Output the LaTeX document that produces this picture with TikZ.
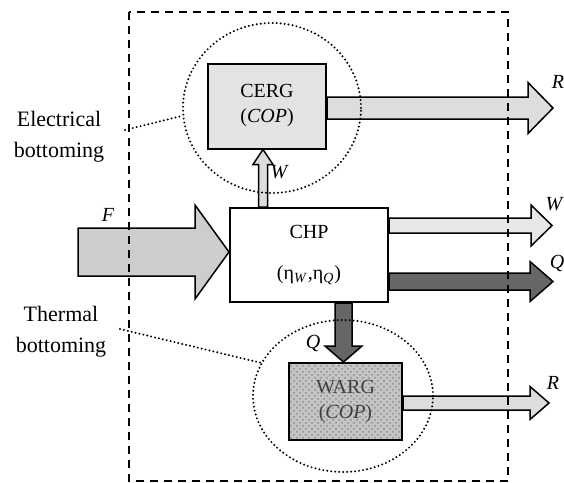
\documentclass[tikz,border=0pt]{standalone}
\usepackage{fontspec}
\setmainfont{Liberation Serif}
\usetikzlibrary{calc,shapes.geometric,patterns,backgrounds}
\definecolor{cergfill}{HTML}{E3E3E3}
\definecolor{flowlight}{HTML}{DDDDDD}
\definecolor{flowfuel}{HTML}{CDCDCD}
\definecolor{flowdark}{HTML}{666666}
\definecolor{wargfill}{HTML}{C4C4C4}
\tikzset{
  box/.style={draw, line width=1pt, inner sep=2pt, align=center, font=\fontsize{10}{12.5}\selectfont},
  flow/.style={draw, line width=.75pt, line join=miter},
  ring/.style={draw, ellipse, inner sep=0pt, line width=1.1pt, line cap=round, dash pattern=on 0pt off 2pt},
  pointer/.style={line width=1.1pt, line cap=round, dash pattern=on 0pt off 2pt},
  lbl/.style={font=\fontsize{10}{12}\selectfont\itshape},
  side/.style={align=center, font=\fontsize{11}{15.5}\selectfont}
}
% horizontal block arrow: from, tip, half shaft, half head, head length, style
\newcommand{\flowh}[6]{%
  \filldraw[flow,#6] ($(#1)+(0,#3)$) -- ($(#2)+(-#5,#3)$) -- ($(#2)+(-#5,#4)$) -- (#2)
    -- ($(#2)+(-#5,-#4)$) -- ($(#2)+(-#5,-#3)$) -- ($(#1)+(0,-#3)$) -- cycle;}
% vertical block arrow: from, tip, half shaft, half head, signed head length, style
\newcommand{\flowv}[6]{%
  \filldraw[flow,#6] ($(#1)+(#3,0)$) -- ($(#2)+(#3,#5)$) -- ($(#2)+(#4,#5)$) -- (#2)
    -- ($(#2)+(-#4,#5)$) -- ($(#2)+(-#3,#5)$) -- ($(#1)+(-#3,0)$) -- cycle;}
\begin{document}
\begin{tikzpicture}[x=.5pt,y=-.5pt]
\useasboundingbox (0,0) rectangle (564,483);

% blocks
\node[box, fill=cergfill, minimum width=59pt, minimum height=42.5pt] (cerg) at (267,106) {CERG\\(\textit{COP})};
\node[box, fill=white, minimum width=79pt, minimum height=47pt] (chp) at (309,255)
  {CHP\\[8pt](η\textsubscript{\textit{W}},η\textsubscript{\textit{Q}})};
\node[box, text=black!75, preaction={fill=wargfill}, pattern=crosshatch dots, pattern color=black!45,
  minimum width=56.5pt, minimum height=38.5pt] (warg) at (345.5,401.5) {WARG\\(\textit{COP})};

% bottoming rings
\node[ring, minimum width=89pt, minimum height=85pt] (ering) at (272,108) {};
\node[ring, minimum width=90pt, minimum height=76pt] (tring) at (343,396) {};

% flow ends
\coordinate (rA) at (553,108);
\coordinate (wout) at (552,225.5);
\coordinate (qout) at (553,281.5);
\coordinate (rB) at (549,403);
\coordinate (fin) at (78,252);
\coordinate (wx) at (263,0);
\coordinate (qx) at (343.5,0);

\begin{scope}[on background layer]
\flowh{fin}{chp.west |- fin}{24}{47}{34}{fill=flowfuel}
\flowh{cerg.east |- rA}{rA}{11}{25.5}{25}{fill=flowlight}
\flowh{chp.east |- wout}{wout}{7.5}{20.5}{21}{fill=flowlight!70}
\flowh{chp.east |- qout}{qout}{8.5}{20}{23}{fill=flowdark}
\flowh{warg.east |- rB}{rB}{7}{16.5}{19}{fill=flowlight}
\flowv{chp.north -| wx}{cerg.south -| wx}{4.5}{10}{15}{fill=flowlight}
\flowv{chp.south -| qx}{warg.north -| qx}{8.5}{18.5}{-16}{fill=flowdark}
\end{scope}

% flow labels
\node[lbl] (lr1) at (558,82) {R};
\node[lbl] (lw1) at (554,204) {W};
\node[lbl] (lq1) at (557,263) {Q};
\node[lbl] (lr2) at (553,383) {R};
\node[lbl] (lf) at (108,215) {F};
\node[lbl] (lw2) at (279,172) {W};
\node[lbl] (lq2) at (313,343) {Q};

% side notes
\node[side] (elec) at (59,137) {Electrical\\bottoming};
\node[side] (therm) at (61,332) {Thermal\\bottoming};
\coordinate (ep) at (125,130);
\coordinate (tp) at (120,329);
\draw[pointer] (ep) -- (ering.185);
\draw[pointer] (tp) -- (tring.158);

% system boundary
\draw[line width=.75pt, dash pattern=on 4pt off 3pt] (129,12) rectangle (508,481);
\end{tikzpicture}
\end{document}
